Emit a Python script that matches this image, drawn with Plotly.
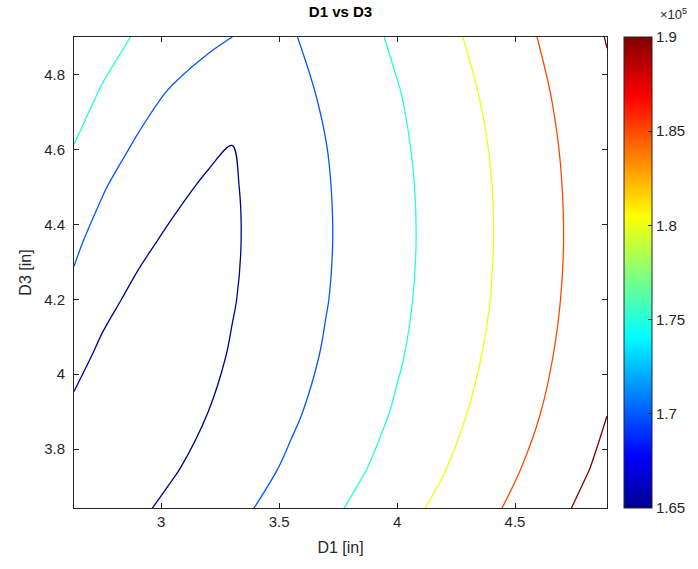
import plotly.graph_objects as go

# Grid (values in units of 1e5)
D1 = [2.63, 2.75, 2.9, 3.05, 3.2, 3.3, 3.4, 3.55, 3.7, 3.85, 4.0, 4.2, 4.4, 4.6, 4.8, 4.89]
D3 = [3.64, 3.75, 3.9, 4.05, 4.2, 4.35, 4.5, 4.61, 4.75, 4.9]

Z_364 = [1.6142, 1.6272, 1.6433, 1.6602, 1.6777, 1.6893, 1.7011, 1.7205, 1.7399, 1.7606, 1.7826, 1.8125, 1.8429, 1.8762, 1.9109, 1.9270]
Z_375 = [1.6195, 1.6130, 1.6297, 1.6463, 1.6640, 1.6760, 1.6880, 1.7067, 1.7266, 1.7465, 1.7685, 1.7982, 1.8295, 1.8620, 1.8967, 1.9131]
Z_390 = [1.6419, 1.6201, 1.6157, 1.6329, 1.6501, 1.6625, 1.6749, 1.6934, 1.7132, 1.7336, 1.7544, 1.7847, 1.8159, 1.8481, 1.8831, 1.8989]
Z_405 = [1.6644, 1.6415, 1.6183, 1.6236, 1.6411, 1.6530, 1.6657, 1.6846, 1.7039, 1.7247, 1.7454, 1.7755, 1.8065, 1.8393, 1.8739, 1.8899]
Z_420 = [1.6868, 1.6626, 1.6394, 1.6186, 1.6357, 1.6475, 1.6601, 1.6793, 1.6985, 1.7193, 1.7402, 1.7699, 1.8007, 1.8340, 1.8684, 1.8844]
Z_435 = [1.7095, 1.6778, 1.6603, 1.6401, 1.6333, 1.6452, 1.6577, 1.6770, 1.6963, 1.7170, 1.7381, 1.7677, 1.7985, 1.8318, 1.8662, 1.8822]
Z_450 = [1.7326, 1.7049, 1.6682, 1.6616, 1.6426, 1.6462, 1.6587, 1.6779, 1.6972, 1.7180, 1.7390, 1.7687, 1.7994, 1.8328, 1.8673, 1.8833]
Z_461 = [1.7495, 1.7229, 1.6945, 1.6774, 1.6601, 1.6499, 1.6616, 1.6807, 1.6997, 1.7207, 1.7416, 1.7715, 1.8023, 1.8354, 1.8699, 1.8858]
Z_475 = [1.7709, 1.7458, 1.7191, 1.6944, 1.6826, 1.6741, 1.6677, 1.6866, 1.7060, 1.7267, 1.7474, 1.7776, 1.8087, 1.8413, 1.8760, 1.8919]
Z_490 = [1.7939, 1.7704, 1.7448, 1.7294, 1.7072, 1.7001, 1.6929, 1.6963, 1.7163, 1.7366, 1.7577, 1.7878, 1.8190, 1.8511, 1.8861, 1.9020]

Z = [Z_364, Z_375, Z_390, Z_405, Z_420, Z_435, Z_450, Z_461, Z_475, Z_490]

LEVEL_START = 1.65
LEVEL_END = 1.90
LEVEL_STEP = 0.05
CBAR_TICKS = [1.65, 1.70, 1.75, 1.80, 1.85, 1.90]
CBAR_LABELS = ["1.65", "1.7", "1.75", "1.8", "1.85", "1.9"]
X_TICKS = [3, 3.5, 4, 4.5]
Y_TICKS = [3.8, 4.0, 4.2, 4.4, 4.6, 4.8]
Y_LABELS = ["3.8", "4", "4.2", "4.4", "4.6", "4.8"]

# MATLAB jet colormap
JET = [
    [0.0, "rgb(0,0,143)"],
    [0.111, "rgb(0,0,255)"],
    [0.365, "rgb(0,255,255)"],
    [0.619, "rgb(255,255,0)"],
    [0.873, "rgb(255,0,0)"],
    [1.0, "rgb(128,0,0)"],
]

AX = "#262626"
FONT = "Liberation Sans, Arial, sans-serif"

fig = go.Figure()
fig.add_trace(go.Contour(
    x=D1, y=D3, z=Z,
    contours=dict(coloring="lines", start=LEVEL_START, end=LEVEL_END + 1e-4, size=LEVEL_STEP),
    colorscale=JET, zmin=LEVEL_START, zmax=LEVEL_END,
    line=dict(width=1.3, smoothing=1.0),
    showscale=False, hoverinfo="skip",
))
# Continuous colour bar (MATLAB style)
fig.add_trace(go.Scatter(
    x=[None, None], y=[None, None], mode="markers",
    marker=dict(color=[LEVEL_START, LEVEL_END], colorscale=JET, cmin=LEVEL_START, cmax=LEVEL_END,
                showscale=True,
                colorbar=dict(
                    x=1.032, xanchor="left", y=0.5, yanchor="middle",
                    len=1.0, lenmode="fraction", thickness=28,
                    outlinecolor=AX, outlinewidth=1,
                    tickvals=CBAR_TICKS, ticktext=CBAR_LABELS,
                    ticks="inside", ticklen=4, tickcolor=AX,
                    tickfont=dict(family=FONT, size=15, color=AX),
                    xpad=0, ypad=0,
                )),
    showlegend=False, hoverinfo="skip",
))

axis_common = dict(
    showgrid=False, zeroline=False, showline=True, mirror="ticks",
    linecolor=AX, linewidth=1, ticks="inside", ticklen=5, tickcolor=AX,
    tickfont=dict(family=FONT, size=15, color=AX),
)
fig.update_layout(
    width=698, height=569,
    margin=dict(l=74, r=91, t=37, b=61, autoexpand=False),
    paper_bgcolor="white", plot_bgcolor="white",
    title=dict(text="<b>D1 vs D3</b>", x=(74 + 607) / 2 / 698, xanchor="center",
               y=1 - 12 / 569, yanchor="middle",
               font=dict(family=FONT, size=15, color="black")),
    xaxis=dict(range=[2.63, 4.89], tickvals=X_TICKS,
               title=dict(text="D1 [in]", font=dict(family=FONT, size=16, color=AX), standoff=12),
               **axis_common),
    yaxis=dict(range=[3.643, 4.9], tickvals=Y_TICKS, ticktext=Y_LABELS, ticklabelstandoff=5,
               title=dict(text="D3 [in]", font=dict(family=FONT, size=16, color=AX), standoff=8),
               **axis_common),
    annotations=[dict(text="×10<sup>5</sup>", xref="paper", yref="paper",
                      x=(658 - 74) / 533, y=1 + 13 / 471, xanchor="left", yanchor="bottom",
                      showarrow=False, font=dict(family=FONT, size=13, color=AX))],
)

fig.write_html("out.html", post_script="document.body.style.margin='0';",
               config={"displayModeBar": False})
